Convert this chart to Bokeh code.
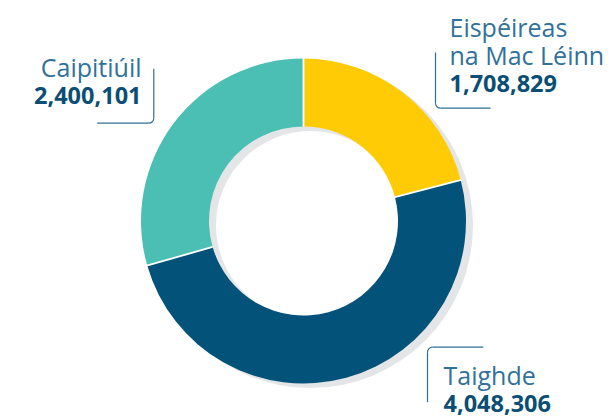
import math
from bokeh.plotting import figure
from bokeh.models import Range1d
from bokeh.core.properties import value
from bokeh.embed import file_html
from bokeh.resources import INLINE

# ---- data ----
categories = ["Eispéireas na Mac Léinn", "Taighde", "Caipitiúil"]
label_lines = [["Eispéireas", "na Mac Léinn"], ["Taighde"], ["Caipitiúil"]]
amounts = [1708829, 4048306, 2400101]
colors = ["#FFCB05", "#02527A", "#4CBFB5"]

# ---- layout (pixel-like coordinates, y measured from the top) ----
W, H = 614, 417
def Y(py):
    return H - py

CX, CY = 303.0, Y(220.5)
R_OUT, R_IN = 162.5, 94.5
SH_DX, SH_DY = 7.0, 4.5
NAME_COLOR = "#31719A"
VALUE_COLOR = "#0A4E75"
FONT = "Open Sans"
TEXT_DY = 9.5   # compensation for where the renderer puts the baseline

p = figure(width=W, height=H, output_backend="svg", toolbar_location=None,
           x_range=Range1d(0, W), y_range=Range1d(0, H),
           x_axis_location=None, y_axis_location=None, min_border=0,
           outline_line_color=None, background_fill_color="white",
           border_fill_color="white")
p.grid.visible = False

# shadow ring
p.annulus(x=[CX + SH_DX], y=[CY - SH_DY], inner_radius=R_IN, outer_radius=R_OUT,
          fill_color="#E4E5E7", line_color=None)

total = float(sum(amounts))
starts, ends = [], []
acc = 0.0
for a in amounts:
    starts.append(math.pi / 2 - acc / total * 2 * math.pi)
    acc += a
    ends.append(math.pi / 2 - acc / total * 2 * math.pi)

p.annular_wedge(x=[CX] * len(amounts), y=[CY] * len(amounts),
                inner_radius=R_IN, outer_radius=R_OUT,
                start_angle=starts, end_angle=ends, direction="clock",
                fill_color=colors, line_color=None)

# white separators at slice boundaries
bx0 = [CX + R_IN * math.cos(s) for s in starts]
by0 = [CY + R_IN * math.sin(s) for s in starts]
bx1 = [CX + (R_OUT + 0.5) * math.cos(s) for s in starts]
by1 = [CY + (R_OUT + 0.5) * math.sin(s) for s in starts]
p.segment(x0=bx0, y0=by0, x1=bx1, y1=by1, line_color="white", line_width=1.8)

# ---- label brackets ----
LC, LW, RC = "#2D6F94", 1.2, 5.0
# Caipitiúil: vertical right side, bottom-right corner, bottom line to the left
p.segment(x0=[153.3], y0=[Y(68.3)], x1=[153.3], y1=[Y(122.7 - RC)],
          line_color=LC, line_width=LW)
p.arc(x=[153.3 - RC], y=[Y(122.7 - RC)], radius=RC,
      start_angle=-math.pi / 2, end_angle=0, line_color=LC, line_width=LW)
p.segment(x0=[96.7], y0=[Y(122.7)], x1=[153.3 - RC], y1=[Y(122.7)],
          line_color=LC, line_width=LW)
# Eispéireas: vertical left side, bottom-left corner, bottom line to the right
p.segment(x0=[435], y0=[Y(52)], x1=[435], y1=[Y(107.7 - RC)],
          line_color=LC, line_width=LW)
p.arc(x=[435 + RC], y=[Y(107.7 - RC)], radius=RC,
      start_angle=math.pi, end_angle=1.5 * math.pi, line_color=LC, line_width=LW)
p.segment(x0=[435 + RC], y0=[Y(107.7)], x1=[490], y1=[Y(107.7)],
          line_color=LC, line_width=LW)
# Taighde: top line, top-left corner, vertical left side downward
TB = 346.7
p.segment(x0=[427 + RC], y0=[Y(TB)], x1=[482.7], y1=[Y(TB)],
          line_color=LC, line_width=LW)
p.arc(x=[427 + RC], y=[Y(TB + RC)], radius=RC,
      start_angle=math.pi / 2, end_angle=math.pi, line_color=LC, line_width=LW)
p.segment(x0=[427], y0=[Y(TB + RC)], x1=[427], y1=[Y(401.7)],
          line_color=LC, line_width=LW)

# ---- label texts ----
label_pos = [(449, 35.7, "left"), (443, 383.5, "left"), (141, 75.5, "right")]
LINE_STEP = 28.5
for i, (lx, base, al) in enumerate(label_pos):
    lines = label_lines[i]
    ly = Y(base - TEXT_DY)
    ys = [ly - k * LINE_STEP for k in range(len(lines))]
    p.text(x=[lx] * len(lines), y=ys, text=lines, text_align=al,
           text_baseline="alphabetic", text_font=value(FONT),
           text_font_size="25px", text_color=NAME_COLOR)
    vy = ly - len(lines) * LINE_STEP
    p.text(x=[lx], y=[vy], text=[f"{amounts[i]:,}"], text_align=al,
           text_baseline="alphabetic", text_font=value(FONT),
           text_font_size="23.5px", text_font_style="bold", text_color=VALUE_COLOR)

open("out.html", "w").write(file_html(p, INLINE))
